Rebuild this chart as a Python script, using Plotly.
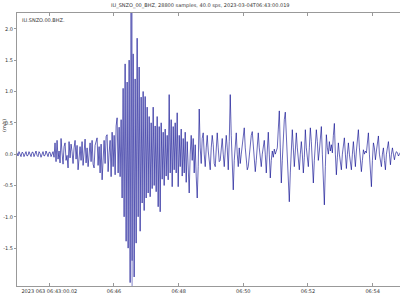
import plotly.graph_objects as go

# ---- data (display-resampled trace, amplitude values) ----
trace_id = "IU.SNZO.00.BHZ."
title_text = "IU_SNZO_00_BHZ, 28800 samples, 40.0 sps, 2023-03-04T06:43:00.019"
display_dt_s = 1.858  # seconds between displayed points

pre_event = [
    0.02, -0.03, 0.04, -0.01, -0.04, 0.03, 0.02, -0.04, 0.01, 0.04,
    -0.03, -0.02, 0.04, -0.01, -0.04, 0.03, 0.03, -0.04, 0.00, 0.05,
    -0.02, -0.04, 0.04, 0.01, -0.05, 0.02, 0.04, -0.03, -0.02, 0.05,
    -0.01, -0.04, 0.03, 0.03, -0.04, 0.00, 0.04, -0.05,
]
p_wave = [
    0.18, -0.12,
    0.22, -0.08, 0.05, -0.14, 0.25, 0.02, -0.16, 0.12, 0.18, -0.10,
    -0.02, -0.22, 0.20, -0.06, 0.16, 0.04, -0.15, 0.10, 0.22, -0.08,
    0.14, -0.25, -0.05, 0.12, -0.10, 0.20, -0.18, 0.06, 0.24, -0.14,
    0.10, -0.20, 0.03, 0.18, -0.12, 0.22, -0.16, -0.22, 0.14, 0.20,
    0.26, -0.18, 0.12, -0.30, 0.16, -0.41, -0.05, 0.22, -0.15, 0.28,
    0.31, -0.28, 0.02, 0.22, -0.36, 0.35, -0.20, 0.30, -0.33, 0.45,
]
s_wave = [
    0.58, -0.30, 0.43, -0.36, 0.55, -0.70, 1.05, -1.00, 1.44, -1.39,
    1.15, -1.50, 1.50, -2.05, 2.30, -1.70, 1.60, -1.96, 1.20, -1.42,
    1.85, -1.00, 1.39, -1.23, 0.91, -0.78, 1.00, -0.90, 0.92, -0.70,
    0.75, -0.62, 0.60, -0.68, 0.50, -0.55, 0.75, -0.50, 0.45, -0.60,
    0.60, -0.84, 0.44, -0.92, 0.50, -0.40, 0.35, -0.50, 0.40, -0.35,
    0.30, -0.41, 0.95, -0.30, 0.55, -0.52, 0.44, -0.25, 0.50, -0.30,
    0.66, -0.52, 0.30, -0.20, 0.40, -0.35, 0.25, -0.30, 0.35, -0.45,
    0.20, -0.20, -0.62, 0.00, 0.30, -0.10, 0.25, -0.30, 0.15, -0.35,
]
surface = [
    -0.70, -0.20, 0.72, 0.10, -0.15, 0.25, 0.34, 0.00, -0.20, 0.10,
    0.30, 0.05, -0.10, -0.25, 0.10, 0.30, 0.15, -0.15, -0.20, 0.20,
    0.34, 0.10, -0.12, -0.10, 0.18, 0.25, 0.00, -0.20, 0.05, 0.30,
    0.10, -0.25, 0.20, 0.95, 0.30, -0.30, -0.57, -0.10, 0.20, 0.34,
    0.00, -0.20, 0.10, -0.15, 0.00, 0.15, 0.30, 0.42, 0.10, -0.15,
    -0.25, -0.20, 0.00, 0.20, 0.30, 0.36, 0.10, -0.15, -0.28, -0.10,
    0.15, 0.34, 0.10, -0.10, -0.20, 0.00, 0.15, 0.22, 0.00, -0.30,
    0.05, 0.35, 0.00, -0.38, -0.10, 0.05, -0.05, 0.08, 0.00, 0.05,
    0.10, 0.40, 0.69, 0.10, -0.46, -0.10, 0.30, 0.55, 0.67, 0.30,
    -0.20, -0.55, -0.76, -0.30, 0.10, 0.39, 0.10, -0.20, 0.05, 0.34,
    0.10, -0.15, -0.25, 0.00, 0.20, 0.00, -0.30, -0.05, 0.39, 0.10,
    -0.10, -0.20, 0.10, 0.42, 0.20, -0.20, -0.46, -0.10, 0.20, 0.39,
    0.20, -0.10, 0.05, 0.25, 0.44, 0.00, -0.40, -0.81, -0.20, 0.31,
    0.10, 0.00, 0.20, 0.05, 0.15, 0.02, 0.30, 0.49, 0.00, -0.33,
    -0.05, 0.18, 0.00, -0.15, -0.25, 0.00, 0.20, 0.26, 0.00, -0.23,
    0.00, 0.18, 0.00, -0.20, -0.25, 0.00, 0.20, 0.00, -0.20, 0.05,
    0.25, 0.39, 0.10, -0.15, -0.28, -0.10, 0.07, 0.00, 0.05, 0.02,
    0.20, 0.34, 0.00, -0.30, -0.52, -0.10, 0.18, 0.10, -0.09, 0.05,
    0.20, 0.29, 0.00, -0.15, -0.20, 0.00, 0.10, -0.10, -0.25, 0.00,
    0.15, 0.20, 0.00, -0.17, 0.00, 0.10, 0.00, -0.09, 0.00, 0.04,
    0.02, -0.03, 0.00, 0.03,
]
marker_time_s = 213.6  # vertical marker, seconds after 06:43:00

x_tick_seconds = [60, 180, 300, 420, 540, 660]
x_tick_labels = ["2023 063 06:43:00.02", "06:46", "06:48", "06:50", "06:52", "06:54"]
y_tick_values = [-1.5, -1.0, -0.5, 0.0, 0.5, 1.0, 1.5, 2.0]
y_tick_labels = ["-1.5", "-1.0", "-0.5", "0.0", "0.5", "1.0", "1.5", "2.0"]
x_range_s = [0, 710.8]
y_range = [-2.104, 2.252]
y_label = "(m/s)"

amplitude = pre_event + p_wave + s_wave + surface
times = [i * display_dt_s for i in range(len(amplitude))]

font_family = "DejaVu Sans"
frame_color = "#999999"
text_color = "#333333"

fig = go.Figure()
fig.add_trace(go.Scatter(
    x=times, y=amplitude, mode="lines",
    line=dict(color="#00008b", width=0.6),
    hoverinfo="skip", showlegend=False,
))

fig.add_shape(type="line", xref="x", yref="paper",
              x0=marker_time_s, x1=marker_time_s, y0=0, y1=1,
              line=dict(color="rgba(110,110,190,0.85)", width=1))

fig.update_layout(
    width=400, height=300,
    margin=dict(l=17, r=0, t=13, b=14),
    paper_bgcolor="white", plot_bgcolor="white",
    font=dict(family=font_family, size=5, color=text_color),
    xaxis=dict(
        range=x_range_s, tickvals=x_tick_seconds, ticktext=x_tick_labels,
        ticks="inside", ticklen=3, tickcolor=frame_color, tickwidth=1,
        showline=True, linecolor=frame_color, linewidth=1, mirror="ticks",
        showgrid=False, zeroline=False,
        tickfont=dict(size=5, color=text_color, family=font_family),
    ),
    yaxis=dict(
        range=y_range, tickvals=y_tick_values, ticktext=y_tick_labels,
        ticks="outside", ticklen=2, tickcolor=frame_color, tickwidth=1,
        showline=True, linecolor=frame_color, linewidth=1,
        showgrid=False, zeroline=False,
        tickfont=dict(size=5, color=text_color, family=font_family),
    ),
    annotations=[
        dict(text=title_text, xref="paper", yref="paper", x=0.48, y=1,
             yshift=8, showarrow=False, xanchor="center", yanchor="middle",
             font=dict(size=5, color=text_color, family=font_family)),
        dict(text=trace_id, xref="paper", yref="paper", x=0, y=1,
             xshift=3, yshift=-2, showarrow=False, xanchor="left", yanchor="top",
             font=dict(size=5, color=text_color, family=font_family)),
        dict(text=y_label, xref="paper", yref="y", x=0, y=0.45,
             xshift=-13, showarrow=False, textangle=-90,
             xanchor="center", yanchor="middle",
             font=dict(size=5, color=text_color, family=font_family)),
    ],
)

fig.write_html("out.html", config={"displayModeBar": False})
